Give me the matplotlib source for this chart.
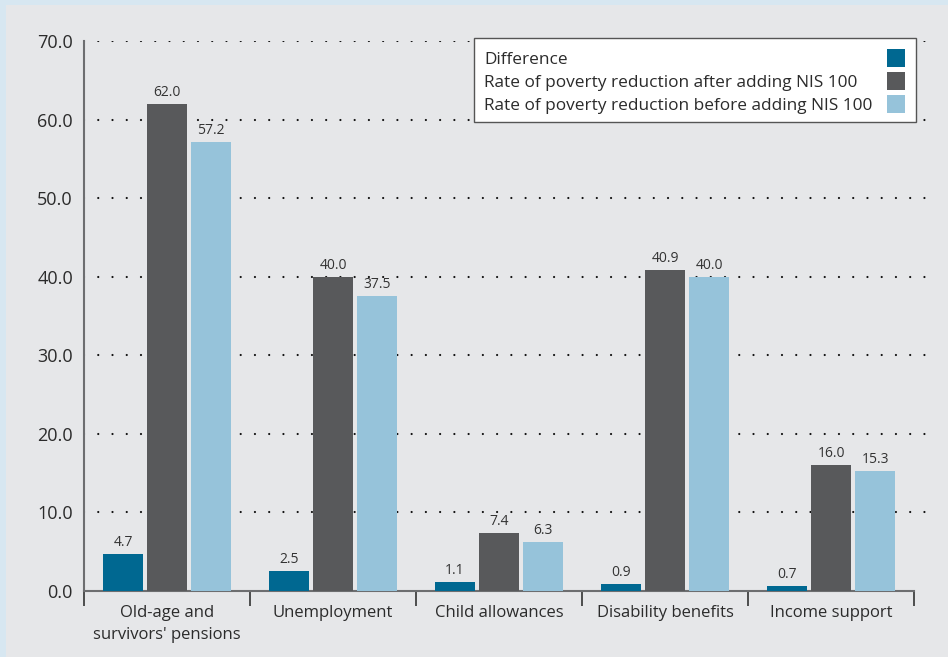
import matplotlib.pyplot as plt
import numpy as np
from matplotlib.patches import Rectangle

plt.rcParams["font.family"] = ["Open Sans", "DejaVu Sans"]

categories = [
    "Old-age and\nsurvivors' pensions",
    "Unemployment",
    "Child allowances",
    "Disability benefits",
    "Income support",
]
difference = [4.7, 2.5, 1.1, 0.9, 0.7]
after_100 = [62.0, 40.0, 7.4, 40.9, 16.0]
before_100 = [57.2, 37.5, 6.3, 40.0, 15.3]

series = [
    ("Difference", difference, "#006891"),
    ("Rate of poverty reduction after adding NIS 100", after_100, "#58595b"),
    ("Rate of poverty reduction before adding NIS 100", before_100, "#96c3da"),
]

W, H = 948, 657
TEXT = "#2b2b2b"


def fx(px):
    return px / W


def fy(py):
    return 1 - py / H


fig = plt.figure(figsize=(W / 100, H / 100), dpi=100)
fig.patch.set_facecolor("#d7e7f1")
fig.patches.append(Rectangle((fx(6), 0), 1, fy(5), transform=fig.transFigure,
                             facecolor="#e6e7e9", edgecolor="none", zorder=-10))

ax = fig.add_axes([fx(84), fy(591), fx(930 - 84), (591 - 41) / H])
ax.set_facecolor("none")

x = np.arange(len(categories))
width = 40 / 166
step = 44 / 166
for k, (label, vals, color) in enumerate(series):
    pos = x + (k - 1) * step
    ax.bar(pos, vals, width=width, color=color, zorder=3, label=label)
    for p, v in zip(pos, vals):
        ax.text(p, v + 0.5, f"{v:.1f}", ha="center", va="bottom",
                fontsize=10, color="#333333", zorder=4)

ax.set_xlim(-0.5, 4.596)
ax.set_ylim(0, 70)
yt = np.arange(0, 71, 10)
ax.set_yticks(yt)
ax.set_yticklabels([f"{v:.1f}" for v in yt], fontsize=13, color=TEXT)
ax.tick_params(axis="y", length=0, pad=8)

# round dotted gridlines, skipping the baseline
for yv in yt[1:]:
    ax.axhline(yv, color="#111111", linewidth=1.6, linestyle=(0, (0.01, 6.4)),
               dash_capstyle="round", zorder=1)

# group separators act as x ticks, category names sit between them
ax.set_xticks(np.arange(-0.5, 4.6, 1.0))
ax.set_xticklabels([])
ax.tick_params(axis="x", length=11, width=1.2, color="#333333", direction="out")
ax.set_xticks(x, minor=True)
ax.set_xticklabels(categories, minor=True, fontsize=12, color=TEXT, linespacing=1.5)
ax.tick_params(axis="x", which="minor", length=0, pad=10)

for side in ["top", "right"]:
    ax.spines[side].set_visible(False)
for side in ["left", "bottom"]:
    ax.spines[side].set_color("#6d6e70")
    ax.spines[side].set_linewidth(1.5)
ax.spines["bottom"].set_bounds(-0.5, 4.5)

# legend box: labels on the left, colour swatches on the right
fig.patches.append(Rectangle((fx(474), fy(122)), fx(916 - 474), (122 - 38) / H,
                             transform=fig.transFigure, facecolor="white",
                             edgecolor="#555555", linewidth=1.0, zorder=5))
for i, (label, _, color) in enumerate(series):
    cy = 58 + 23 * i
    fig.text(fx(484), fy(cy), label, ha="left", va="center_baseline",
             fontsize=12.4, color=TEXT, zorder=6)
    fig.patches.append(Rectangle((fx(887), fy(cy + 9)), fx(18), 18 / H,
                                 transform=fig.transFigure, facecolor=color,
                                 edgecolor="none", zorder=6))

fig.savefig("out.png", dpi=100, facecolor=fig.get_facecolor())
